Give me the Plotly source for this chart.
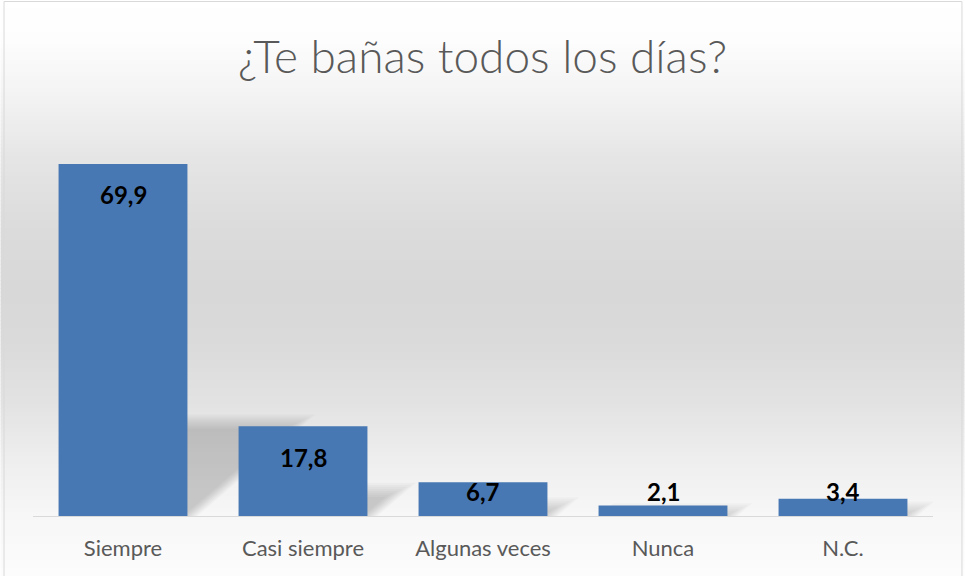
import plotly.graph_objects as go

# Survey answers and their percentages
categories = ["Siempre", "Casi siempre", "Algunas veces", "Nunca", "N.C."]
values = [69.9, 17.8, 6.7, 2.1, 3.4]
title_text = "¿Te bañas todos los días?"

W, H = 965, 576
L_M, R_M, T_M, B_M = 32.5, 31.5, 113, 60
Y_MAX = 80
plot_w = W - L_M - R_M
plot_h = H - T_M - B_M
px_per_unit = plot_h / Y_MAX
BAR_HALF = 0.358


def px_to_paper_y(y_px):
    return (H - B_M - y_px) / plot_h


def px_to_paper_x(x_px):
    return (x_px - L_M) / plot_w


# Vertical background gradient (white -> light grey -> white), drawn as thin bands
stops = [(0, 255), (40, 253), (100, 242), (160, 229), (230, 219), (290, 216),
         (340, 218), (400, 226), (460, 238), (516, 247), (576, 252)]


def grey_at(y):
    for (y0, g0), (y1, g1) in zip(stops[:-1], stops[1:]):
        if y0 <= y <= y1:
            t = (y - y0) / (y1 - y0)
            return round(g0 + (g1 - g0) * t)
    return stops[-1][1]


shapes = []
band = 4
for y in range(0, H, band):
    g = grey_at(y + band / 2)
    shapes.append(dict(
        type="rect", xref="paper", yref="paper", layer="below",
        x0=px_to_paper_x(0), x1=px_to_paper_x(W),
        y0=px_to_paper_y(y + band + 0.5), y1=px_to_paper_y(y),
        fillcolor=f"rgb({g},{g},{g})", line=dict(width=0),
    ))

# Soft perspective shadows cast behind each bar
for i, v in enumerate(values):
    h = 0.26 * v
    for k in range(8):
        grow_px = k * 2.0 - 4.0
        h_k = max(h + grow_px / px_per_unit, 0.05)
        skew = (h_k * px_per_unit * 1.16) / 180.0
        extra = grow_px / 180.0
        x_l = i - BAR_HALF
        x_r = i + BAR_HALF + extra
        path = (f"M {x_l},0 L {x_r},0 L {x_r + skew},{h_k} "
                f"L {x_l + skew},{h_k} Z")
        shapes.append(dict(
            type="path", xref="x", yref="y", layer="below", path=path,
            fillcolor="rgba(0,0,0,0.025)", line=dict(width=0),
        ))

# Thin frame around the chart
shapes.append(dict(
    type="rect", xref="paper", yref="paper", layer="above",
    x0=px_to_paper_x(3.5), x1=px_to_paper_x(962.5),
    y0=px_to_paper_y(H + 5), y1=px_to_paper_y(1.5),
    fillcolor="rgba(0,0,0,0)", line=dict(color="#d9d9d9", width=1),
))

fig = go.Figure(go.Bar(
    x=list(range(len(categories))),
    y=values,
    width=2 * BAR_HALF,
    marker=dict(color="#4878b3", line=dict(width=0)),
    hoverinfo="skip",
))

# Value labels near the top of each bar, kept above the baseline for short bars
annotations = []
for i, v in enumerate(values):
    y_center = max(v - 31 / px_per_unit, 25 / px_per_unit)
    annotations.append(dict(
        x=i, y=y_center, xref="x", yref="y",
        text=f"{v:.1f}".replace(".", ","), showarrow=False,
        font=dict(family="Lato", size=24, color="#000000", weight="bold"),
        yanchor="middle",
    ))

fig.update_layout(
    width=W, height=H,
    margin=dict(l=L_M, r=R_M, t=T_M, b=B_M, pad=0),
    paper_bgcolor="white",
    plot_bgcolor="rgba(0,0,0,0)",
    showlegend=False,
    title=dict(
        text=title_text, x=0.5, xanchor="center",
        xref="container", yref="container",
        y=1 - 57 / H, yanchor="middle",
        font=dict(family="Lato", size=46, color="#595959", weight=300),
    ),
    xaxis=dict(
        tickmode="array", tickvals=list(range(len(categories))),
        ticktext=categories, range=[-0.5, len(categories) - 0.5],
        showgrid=False, zeroline=False, ticks="",
        showline=True, linecolor="#d9d9d9", linewidth=1,
        tickfont=dict(family="Lato", size=22, color="#595959"),
        ticklabelstandoff=13,
    ),
    yaxis=dict(range=[0, Y_MAX], visible=False, showgrid=False),
    shapes=shapes,
    annotations=annotations,
)

fig.write_html("out.html")
